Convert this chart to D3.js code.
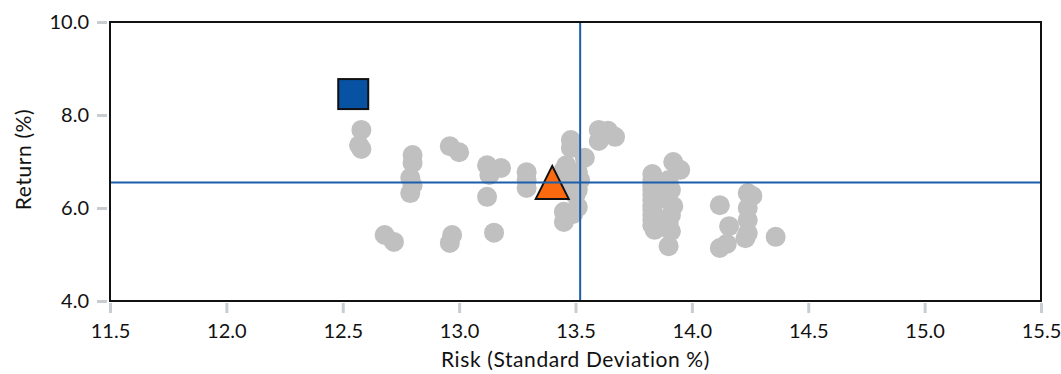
<!DOCTYPE html>
<html>
<head>
<meta charset="utf-8">
<script src="https://cdn.jsdelivr.net/npm/d3@7"></script>
<style>
  html, body { margin: 0; padding: 0; background: #fff; }
  svg { display: block; font-family: Lato, "Open Sans", sans-serif; }
</style>
</head>
<body>
<svg id="chart" width="1061" height="374"></svg>
<script>
// ---- Data ----
const peerRisk = [
  12.58, 12.57, 12.58,
  12.80, 12.80, 12.79, 12.80, 12.79,
  12.96, 13.00,
  12.68, 12.72, 12.97, 12.96,
  13.12, 13.18, 13.13,
  13.12, 13.15,
  13.29, 13.29, 13.29,
  13.60, 13.64, 13.67, 13.60,
  13.48, 13.48, 13.54, 13.46, 13.45, 13.51, 13.52, 13.47, 13.51, 13.50, 13.45, 13.49, 13.51, 13.45,
  13.83, 13.83, 13.83, 13.83, 13.83, 13.83, 13.83, 13.83, 13.83, 13.83, 13.83, 13.84,
  13.92, 13.95, 13.90, 13.91, 13.92, 13.91, 13.90, 13.91, 13.90, 13.87, 13.87,
  14.12, 14.16, 14.12, 14.15, 14.24, 14.26, 14.24, 14.24, 14.24, 14.23, 14.36
];
const peerReturn = [
  7.68, 7.35, 7.27,
  7.14, 6.97, 6.65, 6.49, 6.32,
  7.33, 7.20,
  5.42, 5.27, 5.42, 5.25,
  6.92, 6.86, 6.71,
  6.24, 5.47,
  6.77, 6.60, 6.43,
  7.68, 7.66, 7.53, 7.44,
  7.46, 7.29, 7.08, 6.92, 6.82, 6.77, 6.60, 6.55, 6.39, 6.28, 5.92, 5.87, 6.02, 5.70,
  6.73, 6.60, 6.49, 6.39, 6.28, 6.17, 6.06, 5.96, 5.85, 5.74, 5.63, 5.53,
  6.99, 6.82, 6.60, 6.39, 6.04, 5.85, 5.68, 5.50, 5.18, 6.20, 5.60,
  6.06, 5.61, 5.14, 5.23, 6.32, 6.26, 6.00, 5.74, 5.46, 5.35, 5.38
];
const fundPoint = [12.545, 8.45];      // blue square
const benchPoint = [13.40, 6.55];      // orange triangle
const avgRisk = 13.52;                 // vertical reference line
const avgReturn = 6.55;                // horizontal reference line
const xTicks = [11.5, 12.0, 12.5, 13.0, 13.5, 14.0, 14.5, 15.0, 15.5];
const yTicks = [4.0, 6.0, 8.0, 10.0];
const xTitle = "Risk (Standard Deviation %)";
const yTitle = "Return (%)";

// ---- Layout ----
const L = 110, R = 1041, T = 22, B = 301;
const svg = d3.select("#chart");
const x = d3.scaleLinear().domain([11.5, 15.5]).range([L, R]);
const y = d3.scaleLinear().domain([4, 10]).range([B, T]);

// axes
const tickColor = "#c9cdd1";
const xAxis = svg.append("g").attr("transform", `translate(0,${B + 2})`)
  .call(d3.axisBottom(x).tickValues(xTicks).tickSize(10).tickPadding(11).tickFormat(d3.format(".1f")));
xAxis.select(".domain").remove();
xAxis.selectAll("line").attr("stroke", tickColor).attr("stroke-width", 3);
xAxis.selectAll("text").attr("fill", "#111").attr("font-size", 20)
  .attr("font-family", "Lato, sans-serif").attr("dy", "0.71em");

const yAxis = svg.append("g").attr("transform", `translate(${L - 3},0)`)
  .call(d3.axisLeft(y).tickValues(yTicks).tickSize(10).tickPadding(8).tickFormat(d3.format(".1f")));
yAxis.select(".domain").remove();
yAxis.selectAll("line").attr("stroke", tickColor).attr("stroke-width", 3);
yAxis.selectAll("text").attr("fill", "#111").attr("font-size", 20)
  .attr("font-family", "Lato, sans-serif");

// peers
const peers = peerRisk.map((r, i) => [r, peerReturn[i]]);
svg.append("g").selectAll("circle").data(peers).join("circle")
  .attr("cx", d => x(d[0])).attr("cy", d => y(d[1])).attr("r", 10)
  .attr("fill", "#c0c0c0");

// fund square
svg.append("rect")
  .attr("x", x(fundPoint[0]) - 15).attr("y", y(fundPoint[1]) - 15)
  .attr("width", 30).attr("height", 30)
  .attr("fill", "#0752a3").attr("stroke", "#111").attr("stroke-width", 2);

// benchmark triangle
const bx = x(benchPoint[0]), by = y(benchPoint[1]);
svg.append("path")
  .attr("d", `M${bx},${by - 16.5}L${bx + 16.5},${by + 16.5}L${bx - 16.5},${by + 16.5}Z`)
  .attr("fill", "#fb6a0e").attr("stroke", "#111").attr("stroke-width", 2).attr("stroke-linejoin", "miter");

// reference lines
svg.append("line").attr("x1", x(avgRisk)).attr("x2", x(avgRisk)).attr("y1", T).attr("y2", B)
  .attr("stroke", "#1b5faa").attr("stroke-width", 2);
svg.append("line").attr("x1", L).attr("x2", R).attr("y1", y(avgReturn)).attr("y2", y(avgReturn))
  .attr("stroke", "#1b5faa").attr("stroke-width", 2);

// frame
svg.append("rect").attr("x", L).attr("y", T).attr("width", R - L).attr("height", B - T)
  .attr("fill", "none").attr("stroke", "#111").attr("stroke-width", 2);

// titles
svg.append("text").attr("x", (L + R) / 2).attr("y", 367).attr("text-anchor", "middle")
  .attr("font-size", 21).attr("letter-spacing", 0.6).attr("fill", "#111").text(xTitle);
svg.append("text").attr("transform", `translate(31,${(T + B) / 2 - 2}) rotate(-90)`)
  .attr("text-anchor", "middle").attr("font-size", 21).attr("letter-spacing", 0.6)
  .attr("fill", "#111").text(yTitle);
</script>
</body>
</html>
